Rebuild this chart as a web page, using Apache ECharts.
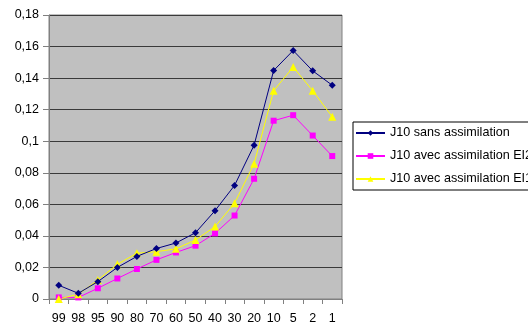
<!DOCTYPE html>
<html><head><meta charset="utf-8">
<script src="https://cdn.jsdelivr.net/npm/echarts@6/dist/echarts.min.js"></script>
<style>html,body{margin:0;padding:0;background:#fff}#c{width:528px;height:331px}</style>
</head><body><div id="c"></div>
<script>
const categories = ['99','98','95','90','80','70','60','50','40','30','20','10','5','2','1'];
const sansAssim = [0.0087,0.0036,0.011,0.020,0.027,0.032,0.0355,0.042,0.056,0.072,0.0975,0.1448,0.1575,0.1446,0.1355];
const avecEI2 = [0.001,0.001,0.0068,0.013,0.019,0.0248,0.0295,0.0338,0.0416,0.0529,0.0762,0.113,0.1165,0.1036,0.0906];
const avecEI1 = [0.0,0.003,0.012,0.022,0.029,0.030,0.0318,0.0374,0.0459,0.0607,0.0858,0.132,0.147,0.132,0.1155];
const seriesNames = ['J10 sans assimilation','J10 avec assimilation EI2','J10 avec assimilation EI1'];
const yMin = 0, yMax = 0.18, yStep = 0.02;

const chart = echarts.init(document.getElementById('c'), null, {renderer:'canvas'});
const font = 'Liberation Sans, Arial, sans-serif';
chart.setOption({
  animation:false,
  backgroundColor:'#ffffff',
  grid:{left:49, right:186, top:15, bottom:32, containLabel:false, outerBoundsMode:'none',
    show:true, backgroundColor:'#c0c0c0', borderColor:'#808080', borderWidth:1},
  legend:{
    orient:'vertical', left:353, top:122,
    backgroundColor:'#ffffff', borderColor:'#000000', borderWidth:1,
    padding:[4,30,4,2], itemGap:9, itemWidth:29, itemHeight:7,
    textStyle:{fontFamily:font, fontSize:12.6, color:'#000', lineHeight:14},
    data:seriesNames
  },
  xAxis:{
    type:'category', data:categories, boundaryGap:true,
    axisLine:{lineStyle:{color:'#808080', width:1}},
    axisTick:{show:true, length:5, lineStyle:{color:'#808080'}},
    axisLabel:{fontFamily:font, fontSize:12.5, color:'#000', margin:13, interval:0}
  },
  yAxis:{
    type:'value', min:yMin, max:yMax, interval:yStep,
    axisLine:{show:true, lineStyle:{color:'#808080'}},
    axisTick:{show:true, length:6, lineStyle:{color:'#808080'}},
    axisLabel:{fontFamily:font, fontSize:12.5, color:'#000', margin:10,
      formatter:v=>String(Math.round(v*100)/100).replace('.',',')},
    splitLine:{show:true, lineStyle:{color:'#3a3a3a', width:1}}
  },
  series:[
    {name:seriesNames[0], type:'line', data:sansAssim, symbol:'diamond', symbolSize:7,
      lineStyle:{color:'#000080', width:1}, itemStyle:{color:'#000080'}, z:3},
    {name:seriesNames[1], type:'line', data:avecEI2, symbol:'rect', symbolSize:6,
      lineStyle:{color:'#ff00ff', width:1}, itemStyle:{color:'#ff00ff'}, z:2},
    {name:seriesNames[2], type:'line', data:avecEI1, symbol:'triangle', symbolSize:8,
      lineStyle:{color:'#ffff00', width:1}, itemStyle:{color:'#ffff00'}, z:2}
  ]
});
</script></body></html>
